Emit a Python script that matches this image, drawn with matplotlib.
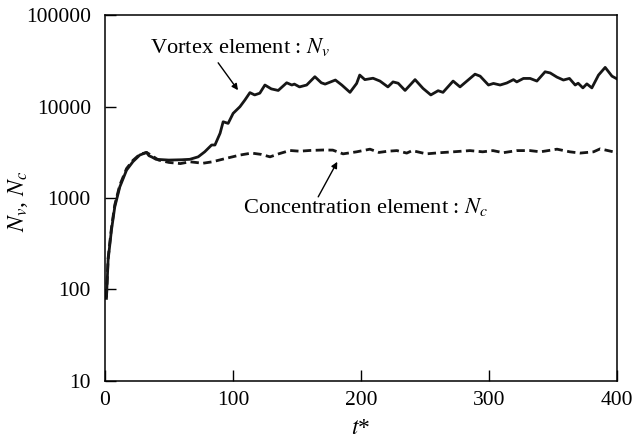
import matplotlib
matplotlib.use('Agg')
import matplotlib.pyplot as plt
from matplotlib.ticker import FixedLocator, NullLocator, FixedFormatter

# Vortex element count N_v (solid line)
t_vortex = [1.3, 2.6, 5.2, 7.8, 11.7, 17, 22, 27.3, 32.6, 34.5, 36.5, 40, 50, 60,
            66.4, 72.9, 78, 83.4, 86, 90, 92.4, 96.3, 100.2, 105.5, 109.4, 113.3,
            117, 121, 125, 130, 135.4, 142, 146, 148, 152, 157.6, 164, 169, 172,
            180, 185, 191.4, 196.6, 199, 203, 209.4, 214.8, 221, 225, 229, 234.4,
            242.2, 248.4, 254.5, 260.2, 264, 271.9, 277.3, 289, 293, 299.5, 303.4,
            308.6, 313.8, 319, 321.6, 326.8, 332, 337.3, 343.7, 347.7, 352.9, 358,
            362.7, 367.2, 369.5, 373.2, 376.3, 380.2, 385.4, 390.6, 395.9, 400]
n_vortex = [80, 210, 445, 800, 1320, 2020, 2500, 2950, 3150, 2900, 2820, 2650, 2600,
            2620, 2650, 2820, 3200, 3800, 3800, 5100, 6820, 6550, 8430, 9960, 11800,
            14200, 13400, 14000, 17200, 15600, 15000, 18200, 17200, 17600, 16400,
            17200, 21200, 18200, 17600, 19500, 17200, 14300, 17900, 22100, 19700,
            20400, 19000, 16400, 18600, 18000, 15000, 19700, 15800, 13400, 14900,
            14300, 19000, 16400, 22600, 21500, 17200, 17900, 17200, 18100, 19700,
            18600, 20300, 20300, 19000, 24000, 23300, 21000, 19500, 20300, 17200,
            18000, 16000, 17700, 16000, 22100, 26800, 21500, 20000]

# Concentration element count N_c (dashed line)
t_conc = [1.3, 2.6, 5.2, 7.8, 11.7, 17, 22, 27.3, 32.6, 36, 42, 50, 59, 66.4, 76.6,
          84, 95, 105.5, 114.6, 122, 129, 136, 144.5, 152, 160, 170.5, 178, 186,
          196.6, 207, 214, 221, 228, 235.7, 240, 251, 261.7, 272, 285, 295, 303,
          311, 321.6, 332, 340, 353, 363, 371, 381.5, 386.7, 397, 400]
n_conc = [82, 220, 470, 840, 1380, 2100, 2580, 3000, 3150, 2950, 2600, 2450, 2380,
          2490, 2400, 2490, 2720, 2950, 3100, 3000, 2820, 3050, 3310, 3250, 3310,
          3350, 3340, 3040, 3200, 3420, 3150, 3250, 3300, 3100, 3300, 3040, 3130,
          3200, 3300, 3200, 3300, 3130, 3300, 3300, 3200, 3420, 3200, 3100, 3200,
          3450, 3200, 3100]

x_ticks = [0, 100, 200, 300, 400]
y_ticks = [10, 100, 1000, 10000, 100000]
y_tick_labels = ['10', '100', '1000', '10000', '100000']

plt.rcParams['font.family'] = ['Liberation Serif', 'DejaVu Serif']
plt.rcParams['mathtext.fontset'] = 'stix'

fig = plt.figure(figsize=(6.35, 4.44), dpi=100)
ax = fig.add_axes([0.165, 0.142, 0.807, 0.824])

ax.plot(t_vortex, n_vortex, color='#161616', lw=2.0, solid_joinstyle='round')
ax.plot(t_conc, n_conc, color='#161616', lw=2.0, dashes=(3, 1.6))

ax.set_yscale('log')
ax.set_xlim(0, 400)
ax.set_ylim(10, 100000)

ax.xaxis.set_major_locator(FixedLocator(x_ticks))
ax.yaxis.set_major_locator(FixedLocator(y_ticks))
ax.yaxis.set_major_formatter(FixedFormatter(y_tick_labels))
ax.yaxis.set_minor_locator(NullLocator())
ax.tick_params(direction='in', length=8, width=1, labelsize=15.5)
ax.tick_params(axis='y', pad=10)
ax.tick_params(axis='x', pad=7)

for sp in ax.spines.values():
    sp.set_linewidth(1.1)

ax.set_xlabel('$t$*', fontsize=17, labelpad=6)
ax.set_ylabel('$N_v$, $N_c$', fontsize=17)
ax.yaxis.set_label_coords(-0.145, 0.49)

arrow = dict(arrowstyle='-|>', lw=1, color='black', mutation_scale=9,
             shrinkA=0, shrinkB=0)
ax.annotate('', xy=(104, 15100), xytext=(88.5, 30100), arrowprops=arrow)
ax.text(35, 44700, 'Vortex element : $N_v$', fontsize=16.2, va='center', ha='left')

ax.annotate('', xy=(181.5, 2490), xytext=(166.6, 1030), arrowprops=arrow)
ax.text(107.8, 797, 'Concentration element : $N_c$', fontsize=16.2,
        va='center', ha='left')

fig.savefig('out.png', dpi=100)
